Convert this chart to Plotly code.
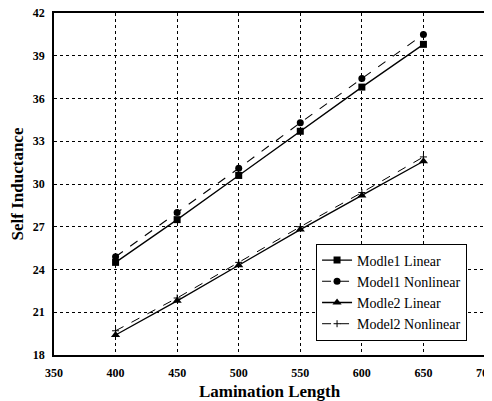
import plotly.graph_objects as go

lengths = [400, 450, 500, 550, 600, 650]
model1_linear = [24.5, 27.5, 30.6, 33.7, 36.8, 39.8]
model1_nonlinear = [24.9, 28.0, 31.1, 34.3, 37.4, 40.5]
model2_linear = [19.4, 21.8, 24.3, 26.8, 29.2, 31.6]
model2_nonlinear = [19.7, 22.0, 24.5, 27.0, 29.4, 31.9]

x_ticks = [350, 400, 450, 500, 550, 600, 650, 700]
y_ticks = [18, 21, 24, 27, 30, 33, 36, 39, 42]

fig = go.Figure()
fig.add_trace(go.Scatter(x=lengths, y=model1_linear, name="Modle1 Linear",
                         mode="lines+markers", line=dict(color="black", width=1.3),
                         marker=dict(symbol="square", size=7, color="black")))
fig.add_trace(go.Scatter(x=lengths, y=model1_nonlinear, name="Model1 Nonlinear",
                         mode="lines+markers", line=dict(color="black", width=1.1, dash="dash"),
                         marker=dict(symbol="circle", size=7, color="black")))
fig.add_trace(go.Scatter(x=lengths, y=model2_linear, name="Modle2 Linear",
                         mode="lines+markers", line=dict(color="black", width=1.3),
                         marker=dict(symbol="triangle-up", size=8, color="black")))
fig.add_trace(go.Scatter(x=lengths, y=model2_nonlinear, name="Model2 Nonlinear",
                         mode="lines+markers", line=dict(color="black", width=1, dash="dash"),
                         marker=dict(symbol="cross-thin", size=5, color="black",
                                     line=dict(color="black", width=1))))

axis_common = dict(showline=True, linecolor="black", linewidth=1.5, mirror=True,
                   showgrid=True, gridcolor="black", gridwidth=1, griddash="dot",
                   zeroline=False, ticks="", automargin=False, ticklabeloverflow="allow",
                   tickfont=dict(family="Liberation Serif", size=12, color="black", weight="bold"))

fig.update_xaxes(range=[350, 700], tickvals=x_ticks, ticklabelstandoff=6, **axis_common,
                 title=dict(text="Lamination Length", standoff=8,
                            font=dict(family="Liberation Serif", size=17, color="black", weight="bold")))
fig.update_yaxes(range=[18, 42], tickvals=y_ticks, ticklabelstandoff=5, **axis_common,
                 title=dict(text="Self Inductance", standoff=8,
                            font=dict(family="Liberation Serif", size=17, color="black", weight="bold")))

# page body has an 8px default margin, so the figure is sized/offset to compensate
fig.update_layout(
    width=484, height=393,
    margin=dict(l=46, r=7, t=5, b=46),
    plot_bgcolor="white", paper_bgcolor="white",
    legend=dict(x=0.608, y=0.326, xanchor="left", yanchor="top",
                bgcolor="white", bordercolor="black", borderwidth=1,
                font=dict(family="Liberation Serif", size=14, color="black")),
)

fig.write_html("out.html")
